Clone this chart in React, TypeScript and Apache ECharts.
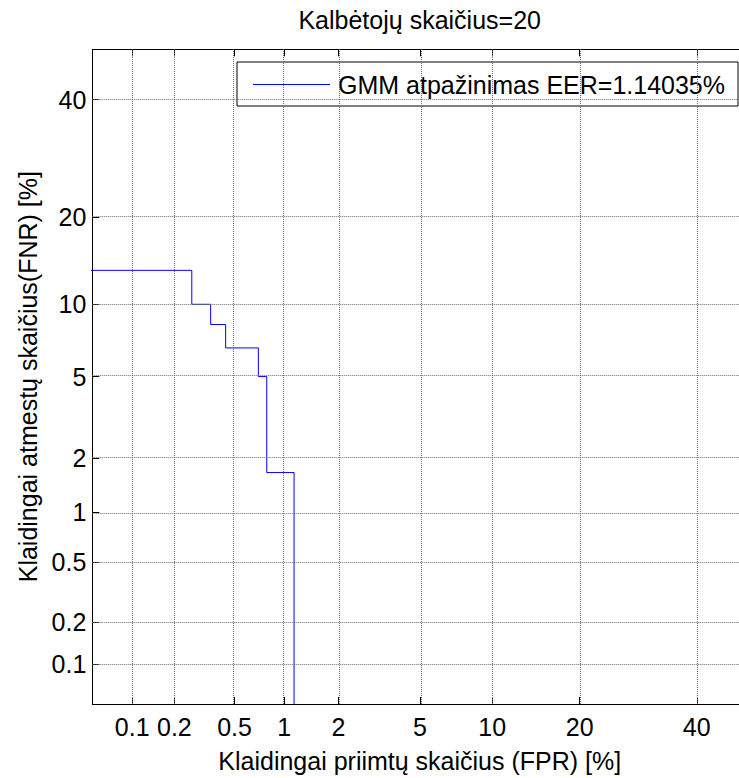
import React, { useEffect, useRef } from "react";
import * as echarts from "echarts";

// ---- data (percent) ----
const tickPercents = [0.1, 0.2, 0.5, 1, 2, 5, 10, 20, 40];
const tickLabels = ["0.1", "0.2", "0.5", "1", "2", "5", "10", "20", "40"];
const axisMinPercent = 0.05;
const axisMaxPercent = 50;
// DET staircase vertices
const fprPercent = [0, 0.263, 0.263, 0.351, 0.351, 0.439, 0.439, 0.702, 0.702, 0.789, 0.789, 1.14, 1.14];
const fnrPercent = [13.33, 13.33, 10.0, 10.0, 8.33, 8.33, 6.67, 6.67, 5.0, 5.0, 1.67, 1.67, 0];
const seriesName = "GMM atpažinimas EER=1.14035%";
const titleText = "Kalbėtojų skaičius=20";
const xName = "Klaidingai priimtų skaičius (FPR) [%]";
const yName = "Klaidingai atmestų skaičius(FNR) [%]";

// inverse normal CDF (Acklam) – the DET axis transform
function probit(p: number): number {
  if (p <= 0) return -8;
  if (p >= 1) return 8;
  const a = [-3.969683028665376e1, 2.209460984245205e2, -2.759285104469687e2, 1.38357751867269e2, -3.066479806614716e1, 2.506628277459239];
  const b = [-5.447609879822406e1, 1.615858368580409e2, -1.556989798598866e2, 6.680131188771972e1, -1.328068155288572e1];
  const c = [-7.784894002430293e-3, -3.223964580411365e-1, -2.400758277161838, -2.549732539343734, 4.374664141464968, 2.938163982698783];
  const d = [7.784695709041462e-3, 3.224671290700398e-1, 2.445134137142996, 3.754408661907416];
  const pl = 0.02425;
  let q: number, r: number;
  if (p < pl) {
    q = Math.sqrt(-2 * Math.log(p));
    return (((((c[0] * q + c[1]) * q + c[2]) * q + c[3]) * q + c[4]) * q + c[5]) / ((((d[0] * q + d[1]) * q + d[2]) * q + d[3]) * q + 1);
  } else if (p <= 1 - pl) {
    q = p - 0.5;
    r = q * q;
    return ((((((a[0] * r + a[1]) * r + a[2]) * r + a[3]) * r + a[4]) * r + a[5]) * q) / (((((b[0] * r + b[1]) * r + b[2]) * r + b[3]) * r + b[4]) * r + 1);
  } else {
    q = Math.sqrt(-2 * Math.log(1 - p));
    return -(((((c[0] * q + c[1]) * q + c[2]) * q + c[3]) * q + c[4]) * q + c[5]) / ((((d[0] * q + d[1]) * q + d[2]) * q + d[3]) * q + 1);
  }
}

const FONT = "'Liberation Sans', Arial, sans-serif";
const FS = 25;

export default function App() {
  const ref = useRef<HTMLDivElement>(null);
  useEffect(() => {
    if (!ref.current) return;
    const chart = echarts.init(ref.current, undefined, { renderer: "svg" });
    const tickVals = tickPercents.map((t) => probit(t / 100));
    const lo = probit(axisMinPercent / 100);
    const hi = probit(axisMaxPercent / 100);
    const fmt = (v: number) => {
      let best = 0;
      tickVals.forEach((t, i) => {
        if (Math.abs(t - v) < Math.abs(tickVals[best] - v)) best = i;
      });
      return tickLabels[best];
    };
    const data = fprPercent.map((f, i) => [probit(f / 100), probit(fnrPercent[i] / 100)]);
    const axisCommon = (show: boolean, margin: number) => ({
      type: "value" as const,
      min: lo,
      max: hi,
      axisLine: { show: true, onZero: false, lineStyle: { color: "#000", width: 1 } },
      axisTick: { show: true, inside: true, length: 7, customValues: tickVals, lineStyle: { color: "#000", width: 1 } },
      axisLabel: {
        show,
        margin,
        customValues: tickVals,
        formatter: fmt,
        color: "#000",
        fontSize: FS,
        fontFamily: FONT,
      },
      splitLine: { show: false },
    });
    const gridLine = { color: "#6e6e6e", width: 1, type: "dotted" as const };
    chart.setOption({
      animation: false,
      backgroundColor: "#fff",
      grid: { left: 92.3, top: 49.3, width: 654.9, height: 655.4, containLabel: false },
      xAxis: [
        {
          ...axisCommon(true, 10),
          position: "bottom",
          name: xName,
          nameLocation: "middle",
          nameGap: 44,
          nameTextStyle: { color: "#000", fontSize: FS, fontFamily: FONT },
        },
        { ...axisCommon(false, 8), position: "top" },
      ],
      yAxis: [
        {
          ...axisCommon(true, 6),
          position: "left",
          name: yName,
          nameLocation: "middle",
          nameGap: 49,
          nameTextStyle: { color: "#000", fontSize: FS, fontFamily: FONT },
        },
        { ...axisCommon(false, 8), position: "right" },
      ],
      legend: {
        data: [seriesName],
        right: 22,
        top: 62,
        icon: "rect",
        backgroundColor: "#fff",
        borderColor: "#000",
        borderWidth: 1,
        borderRadius: 0,
        padding: [10, 13, 9, 16],
        itemWidth: 77,
        itemHeight: 1,
        textStyle: { color: "#000", fontSize: FS, fontFamily: FONT, padding: [0, 0, 0, 3] },
      },
      graphic: [
        {
          type: "text",
          x: 419.7,
          y: 20,
          style: { text: titleText, fill: "#000", fontSize: FS, fontFamily: FONT, align: "center", verticalAlign: "middle" },
        },
      ],
      series: [
        {
          type: "line",
          name: "grid",
          data: [],
          z: 1,
          silent: true,
          markLine: {
            silent: true,
            symbol: "none",
            label: { show: false },
            lineStyle: gridLine,
            data: [...tickVals.map((v) => ({ xAxis: v })), ...tickVals.map((v) => ({ yAxis: v }))],
          },
        },
        {
          type: "line",
          name: seriesName,
          data,
          z: 3,
          symbol: "none",
          showSymbol: false,
          clip: true,
          lineStyle: { color: "#0000ff", width: 1 },
          itemStyle: { color: "#0000ff" },
        },
      ],
    });
    return () => chart.dispose();
  }, []);
  return (
    <div style={{ position: "fixed", left: 0, top: 0, width: 739, height: 778, overflow: "hidden", background: "#fff" }}>
      <div ref={ref} style={{ width: 760, height: 778 }} />
    </div>
  );
}
